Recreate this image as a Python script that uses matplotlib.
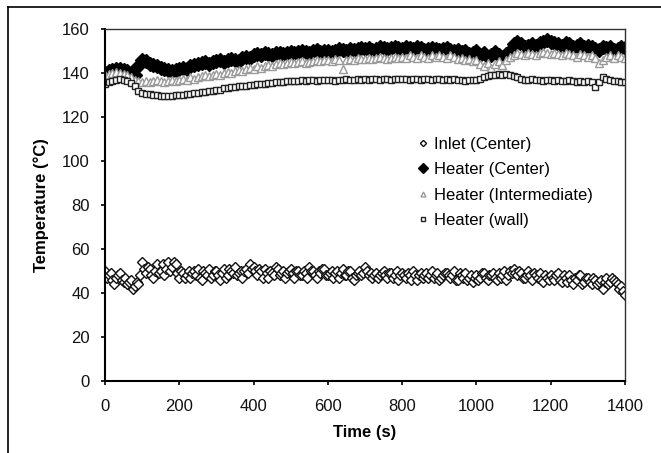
import numpy as np
import matplotlib
matplotlib.use('Agg')
import matplotlib.pyplot as plt
from matplotlib.lines import Line2D

plt.rcParams['font.family'] = ['Liberation Sans', 'DejaVu Sans']

# heater readings every 10 s, inlet every 5 s
time_s = np.arange(0, 1401, 10)
time_inlet_mid = np.arange(5, 1400, 10)

inlet_center = [
    50, 48, 46, 47, 49, 45, 44, 46, 43, 44,
    54, 49, 51, 47, 53, 50, 48, 54, 52, 53,
    47, 49, 48, 47, 50, 51, 46, 49, 51, 48,
    50, 46, 51, 48, 50, 52, 49, 47, 51, 53,
    52, 48, 50, 51, 47, 49, 52, 48, 50, 49,
    51, 47, 50, 48, 49, 52, 50, 47, 49, 51,
    48, 50, 49, 47, 51, 48, 50, 46, 49, 48,
    52, 48, 47, 49, 48, 50, 47, 49, 48, 46,
    49, 47, 48, 50, 46, 49, 48, 47, 50, 48,
    46, 48, 49, 47, 50, 46, 48, 49, 47, 45,
    48, 47, 49, 46, 48, 47, 49, 48, 46, 50,
    51, 48, 49, 47, 50, 46, 48, 49, 45, 47,
    48, 46, 49, 45, 47, 48, 44, 46, 48, 45,
    47, 44, 46, 45, 42, 47, 45, 46, 44, 43,
    39]

inlet_center_mid = [
    47, 49, 44, 48, 46, 47, 45, 42, 45, 48,
    51, 52, 48, 50, 49, 53, 51, 50, 54, 49,
    50, 47, 50, 49, 48, 47, 50, 48, 47, 50,
    48, 49, 47, 51, 49, 48, 50, 50, 49, 51,
    50, 51, 47, 49, 50, 48, 51, 49, 47, 50,
    49, 50, 48, 50, 47, 50, 48, 50, 51, 48,
    49, 47, 50, 49, 48, 50, 47, 48, 50, 49,
    50, 49, 48, 47, 49, 48, 49, 47, 50, 48,
    48, 49, 46, 48, 48, 47, 49, 48, 47, 49,
    47, 49, 48, 48, 46, 49, 47, 46, 48, 47,
    46, 49, 47, 48, 49, 46, 47, 50, 48, 49,
    49, 50, 47, 48, 48, 49, 47, 46, 48, 46,
    47, 48, 46, 48, 45, 46, 47, 48, 44, 47,
    45, 47, 44, 46, 45, 44, 47, 45, 42, 41]

heater_center = [
    140, 141, 141.5, 142, 142, 141.5, 141, 140, 139, 143,
    146, 145.5, 144, 143.5, 143, 142.5, 142, 141.5, 141, 141.5,
    142, 142.5, 142, 143, 143.5, 144, 144.5, 145, 144, 145,
    145.5, 146, 145, 146, 146.5, 146, 145.5, 147, 147.5, 147,
    148, 148.5, 148, 149, 148.5, 148, 149, 149, 148.5, 149,
    149.5, 149, 149.5, 150, 149.5, 149, 150, 150.5, 149.5, 150,
    150, 149.5, 150, 151, 150.5, 150, 151, 150.5, 151, 151.5,
    151, 151.5, 150.5, 151, 152, 151.5, 151, 151.5, 152, 151.5,
    151, 152, 151.5, 151, 152, 151.5, 150.5, 151, 151.5, 151,
    150.5, 151, 151.5, 150.5, 150, 150.5, 149.5, 150, 148.5, 149,
    150, 148, 149, 147.5, 148, 149.5, 148, 147, 148.5, 150,
    153, 154, 153, 152, 152.5, 153, 152.5, 153.5, 154, 155,
    154, 153.5, 153, 152.5, 153.5, 153, 152, 152.5, 153, 152,
    152.5, 152, 151, 150.5, 152, 151.5, 152, 150.5, 151, 152,
    151.5]

heater_intermediate = [
    139, 139.5, 140, 140.5, 140, 139.5, 139, 138, 137, 136.5,
    136, 136.5, 136, 136.5, 137, 136.5, 136, 136.5, 137, 136.5,
    137, 137.5, 137, 138, 137.5, 138, 138.5, 139, 138.5, 139,
    139.5, 139, 140, 140.5, 140, 141, 141.5, 141, 142, 142.5,
    142, 143, 142.5, 143, 143.5, 143, 144, 144.5, 144, 144.5,
    145, 144.5, 145, 145.5, 144.5, 145, 145.5, 146, 145.5, 146,
    146, 145.5, 146.5, 146, 142, 146, 146.5, 146, 147, 146.5,
    146.5, 147, 146.5, 147, 147.5, 147, 146.5, 147, 147.5, 147,
    147.5, 147, 148, 147.5, 147, 148, 147.5, 147, 148, 147.5,
    148, 147.5, 147, 148, 147.5, 146.5, 147, 146, 146.5, 145.5,
    146, 144, 143, 144.5, 142.5, 144, 145.5, 143.5, 146, 147.5,
    148, 149, 148.5, 148, 149, 148.5, 148, 149, 149.5, 149,
    148.5, 149, 148.5, 148, 149, 148.5, 148, 147.5, 148.5, 148,
    147.5, 148, 147, 144.5, 146, 147.5, 148, 147, 148, 147.5,
    147]

heater_wall = [
    135, 136, 136.5, 137, 137.5, 137, 136.5, 135.5, 134, 132,
    131, 130.5, 130.5, 130, 130, 129.5, 129.5, 129.5, 129.5, 130,
    130, 130, 130.5, 130.5, 131, 131, 131.5, 131.5, 132, 132,
    132.5, 132.5, 133, 133, 133.5, 133.5, 134, 134, 134, 134.5,
    134.5, 135, 135, 135, 135.5, 135.5, 136, 136, 136, 136.5,
    136.5, 136.5, 136.5, 137, 136.5, 137, 137, 136.5, 137, 137,
    137, 137, 136.5, 137, 137, 137.5, 137, 137, 137.5, 137,
    137.5, 137, 137.5, 137.5, 137, 137.5, 137.5, 137, 137.5, 137.5,
    137.5, 137.5, 137, 137.5, 137.5, 137, 137.5, 137.5, 137, 137.5,
    137.5, 137, 137.5, 137, 137.5, 137, 137, 136.5, 137, 137,
    137, 137.5, 138, 138.5, 139, 139, 139.5, 139, 139.5, 139,
    138.5, 138, 137.5, 137, 137, 137.5, 137, 137, 136.5, 137,
    137, 136.5, 137, 136.5, 136.5, 137, 136.5, 136, 136.5, 136,
    136.5, 136, 133.5, 136, 138, 137.5, 137, 136.5, 136.5, 136,
    136]

# merge the two inlet readings into one time-ordered series
inlet_t = np.concatenate([time_s, time_inlet_mid])
inlet_v = np.concatenate([inlet_center, inlet_center_mid])
order = np.argsort(inlet_t)
inlet_t, inlet_v = inlet_t[order], inlet_v[order]

fig = plt.figure(figsize=(6.61, 4.53), dpi=100)
ax = fig.add_axes([105/661, 1-381/453, 520/661, 352/453])

ax.plot(inlet_t, inlet_v, ls='none', marker='D', ms=4.6, mfc='white',
        mec='#111111', mew=1.0, label='Inlet (Center)')
ax.plot(time_s, heater_center, ls='none', marker='D', ms=6.8, mfc='black',
        mec='black', mew=1.0, label='Heater (Center)')
ax.plot(time_s, heater_intermediate, ls='none', marker='^', ms=5.2, mfc='white',
        mec='#9a9a9a', mew=1.0, label='Heater (Intermediate)')
ax.plot(time_s, heater_wall, ls='none', marker='s', ms=4.3, mfc='white',
        mec='#222222', mew=1.0, label='Heater (wall)')

ax.set_xlim(0, 1400)
ax.set_ylim(0, 160)
ax.set_xticks(np.arange(0, 1401, 200))
ax.set_yticks(np.arange(0, 161, 20))
ax.tick_params(direction='out', length=3, width=1.2, labelsize=12, color='black',
               labelcolor='#111111')
ax.tick_params(axis='x', pad=10)
ax.tick_params(axis='y', pad=8)

for side in ['left', 'bottom']:
    ax.spines[side].set_linewidth(1.5)
for side in ['top', 'right']:
    ax.spines[side].set_linewidth(1.0)
    ax.spines[side].set_color('#333333')

ax.set_xlabel('Time (s)', fontsize=12, fontweight='bold', labelpad=8)
ax.set_ylabel('Temperature (°C)', fontsize=12, fontweight='bold', labelpad=9)

leg = ax.legend(loc='upper left', bbox_to_anchor=(0.587, 0.717), frameon=False,
                fontsize=12, handlelength=0.5, handletextpad=0.45,
                labelspacing=0.62, borderpad=0, markerscale=0.68)

# outer frame of the picture
fig.add_artist(Line2D([8/661, 8/661], [0, 1-7/453], color='black', lw=1.2,
                      transform=fig.transFigure))
fig.add_artist(Line2D([8/661, 1], [1-7/453, 1-7/453], color='black', lw=1.2,
                      transform=fig.transFigure))

fig.savefig('out.png', dpi=100)
